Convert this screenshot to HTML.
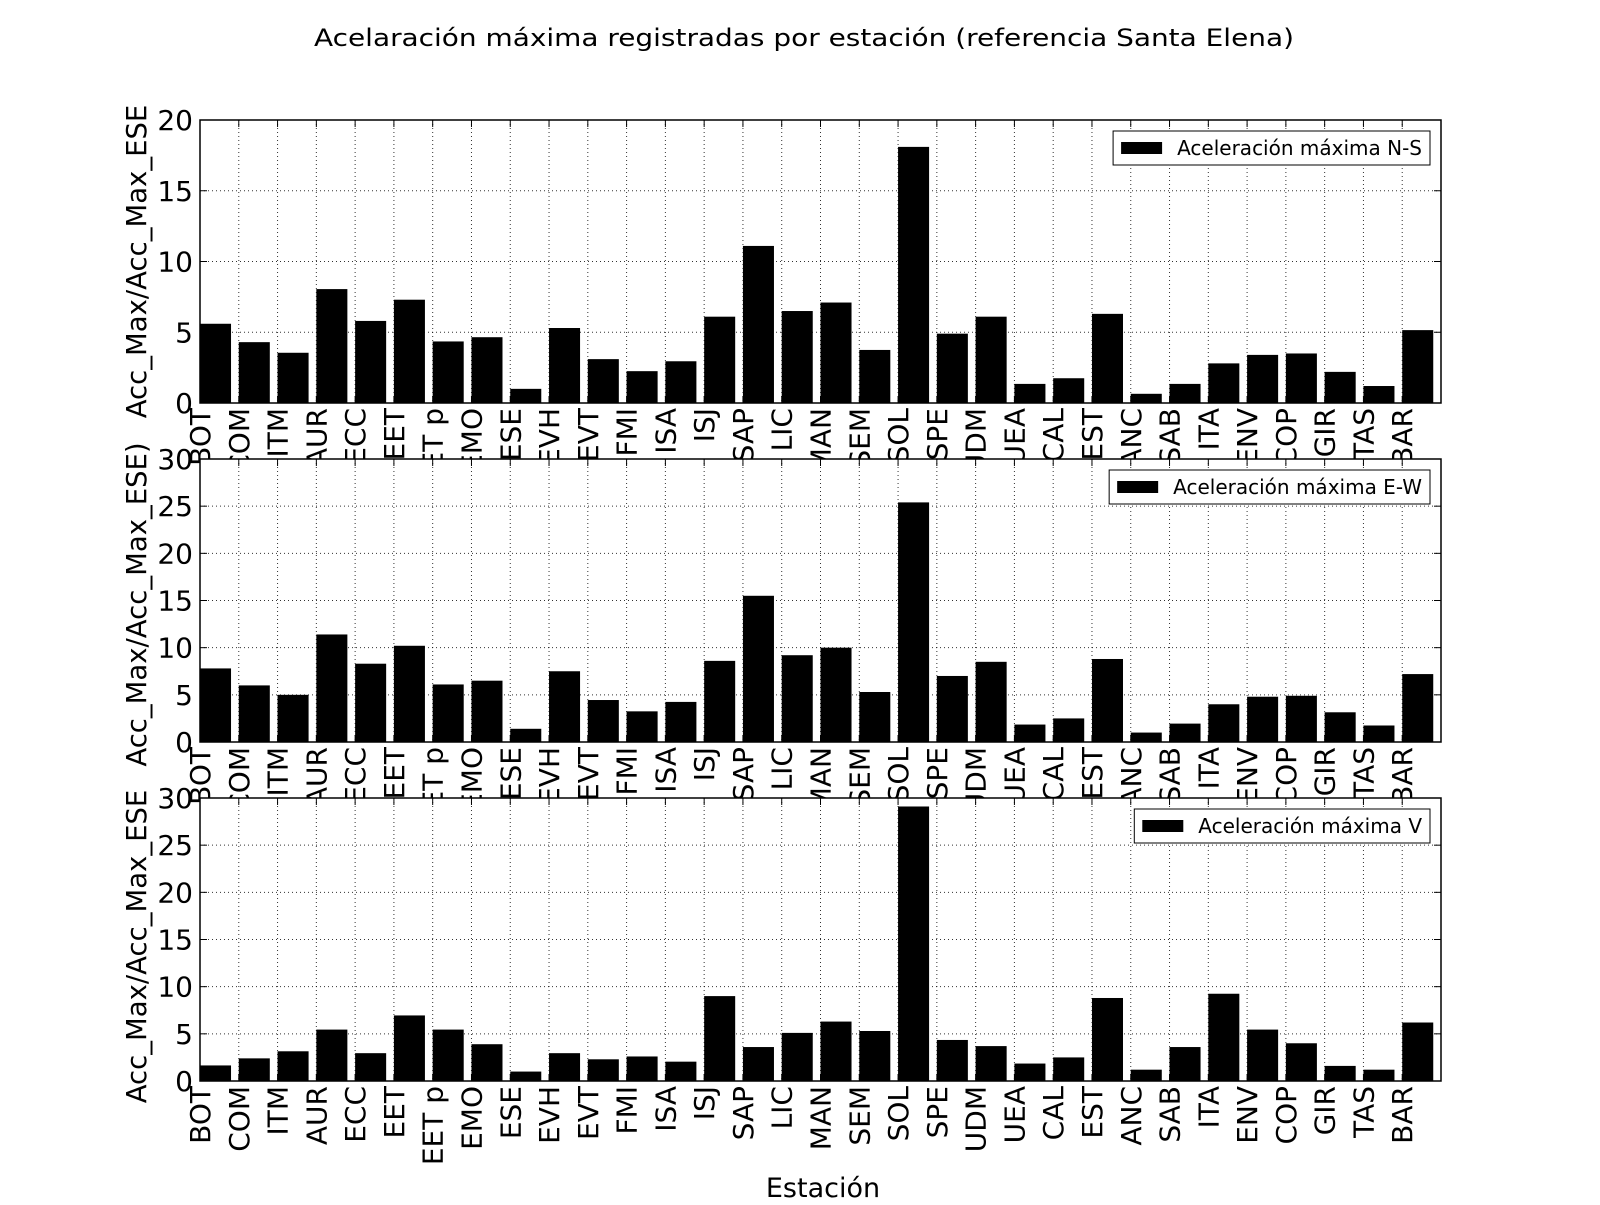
<!DOCTYPE html>
<html><head><meta charset="utf-8"><style>
body{margin:0;background:#fff}
svg text{font-family:"DejaVu Sans","Liberation Sans",sans-serif;fill:#000}
</style></head><body>
<svg id="chart" width="1600" height="1200" xmlns="http://www.w3.org/2000/svg">
<rect width="1600" height="1200" fill="#fff"/>
<text x="804" y="46" font-size="24" text-anchor="middle" textLength="980" lengthAdjust="spacingAndGlyphs">Acelaración máxima registradas por estación (referencia Santa Elena)</text>
<text x="823" y="1197" font-size="27" text-anchor="middle">Estación</text>
<g id="plots"></g>
</svg>
<script>
const categories = ["BOT","COM","ITM","AUR","ECC","EET","EET p","EMO","ESE","EVH","EVT","FMI","ISA","ISJ","SAP","LIC","MAN","SEM","SOL","SPE","UDM","UEA","CAL","EST","ANC","SAB","ITA","ENV","COP","GIR","TAS","BAR"];
const valuesNS = [5.6,4.3,3.55,8.05,5.8,7.3,4.35,4.65,1.0,5.3,3.1,2.25,2.95,6.1,11.1,6.5,7.1,3.75,18.1,4.9,6.1,1.35,1.75,6.3,0.65,1.35,2.8,3.4,3.5,2.2,1.2,5.15];
const valuesEW = [7.8,6.0,5.0,11.4,8.3,10.2,6.1,6.5,1.4,7.5,4.45,3.25,4.25,8.6,15.5,9.2,10.0,5.3,25.4,7.0,8.5,1.85,2.5,8.8,1.0,1.95,4.0,4.8,4.9,3.15,1.75,7.2];
const valuesV = [1.65,2.4,3.15,5.45,2.95,6.95,5.45,3.9,1.0,2.95,2.3,2.6,2.05,9.0,3.6,5.1,6.3,5.3,29.1,4.35,3.7,1.85,2.5,8.8,1.2,3.6,9.25,5.45,4.0,1.6,1.2,6.2];
const ticksNS = [0,5,10,15,20];
const ticksEW = [0,5,10,15,20,25,30];
const ticksV = [0,5,10,15,20,25,30];
const legendLabels = ["Aceleración máxima N-S","Aceleración máxima E-W","Aceleración máxima V"];
const yTitles = ["Acc_Max/Acc_Max_ESE","Acc_Max/Acc_Max_ESE)","Acc_Max/Acc_Max_ESE"];

const NS="http://www.w3.org/2000/svg";
const root=document.getElementById('plots');
function mk(tag,attrs,parent){const e=document.createElementNS(NS,tag);for(const k in attrs)e.setAttribute(k,attrs[k]);(parent||root).appendChild(e);return e;}
const L=200,R=1441,W=R-L;
const panels=[{top:120,bot:403,vals:valuesNS,ticks:ticksNS,max:20,key:'ns'},
              {top:459,bot:742,vals:valuesEW,ticks:ticksEW,max:30,key:'ew'},
              {top:798,bot:1081,vals:valuesV,ticks:ticksV,max:30,key:'v'}];
const n=categories.length;
const xs=i=>L+i*W/n;
panels.forEach((p,pi)=>{
  const g=mk('g',{});
  
  
  const ys=v=>p.bot-v/p.max*(p.bot-p.top);
  const bg=mk('rect',{x:L,y:p.top,width:W,height:p.bot-p.top,fill:'#fff'},g);
  
  
  for(let i=1;i<n;i++){const gl=mk('line',{x1:xs(i),x2:xs(i),y1:p.top,y2:p.bot,stroke:'#000','stroke-width':1,'stroke-dasharray':'1,3',opacity:0.8},g);
    }
  p.ticks.forEach(t=>{if(t>0&&t<p.max){const gl=mk('line',{x1:L,x2:R,y1:ys(t),y2:ys(t),stroke:'#000','stroke-width':1,'stroke-dasharray':'1,3',opacity:0.8},g);
    }});
  p.vals.forEach((v,i)=>{const b=mk('rect',{x:xs(i),y:ys(v),width:W/n*0.8,height:p.bot-ys(v),fill:'#000'},g);
    
    });
  const fr=mk('rect',{x:L,y:p.top,width:W,height:p.bot-p.top,fill:'none',stroke:'#000','stroke-width':1.5},g);
  
  p.ticks.forEach(t=>{
    mk('line',{x1:L,x2:L+7,y1:ys(t),y2:ys(t),stroke:'#000'},g);
    mk('line',{x1:R-7,x2:R,y1:ys(t),y2:ys(t),stroke:'#000'},g);
    const tl=mk('text',{x:L-7,y:ys(t)+10,'font-size':28,'text-anchor':'end'},g);
    tl.textContent=t;
    });
  categories.forEach((c,i)=>{
    mk('line',{x1:xs(i),x2:xs(i),y1:p.bot,y2:p.bot-7,stroke:'#000'},g);
    mk('line',{x1:xs(i),x2:xs(i),y1:p.top,y2:p.top+7,stroke:'#000'},g);
    const tl=mk('text',{x:0,y:0,'font-size':28,'text-anchor':'end',transform:`translate(${xs(i)+10},${p.bot+5}) rotate(-90)`},g);
    tl.textContent=c;
    });
  const yc=(p.top+p.bot)/2+(pi===1?4:pi===2?7:0);
  const yt=mk('text',{x:0,y:0,'font-size':27.5,'text-anchor':'middle',transform:`translate(146,${yc}) rotate(-90)`},g);
  yt.textContent=yTitles[pi];
  
  const lg=mk('g',{},g);
  
  const box=mk('rect',{x:0,y:p.top+11,width:10,height:34,fill:'#fff',stroke:'#000','stroke-width':1},lg);
  const sw=mk('rect',{x:0,y:p.top+22,width:41,height:12,fill:'#000'},lg);
  const lt=mk('text',{x:0,y:p.top+35,'font-size':20},lg);
  lt.textContent=legendLabels[pi];
  
  const tw=lt.getComputedTextLength();
  const right=1430, tx=right-8-tw;
  lt.setAttribute('x',tx);
  sw.setAttribute('x',tx-56);
  box.setAttribute('x',tx-64);
  box.setAttribute('width',right-(tx-64));
});
</script>
</body></html>
